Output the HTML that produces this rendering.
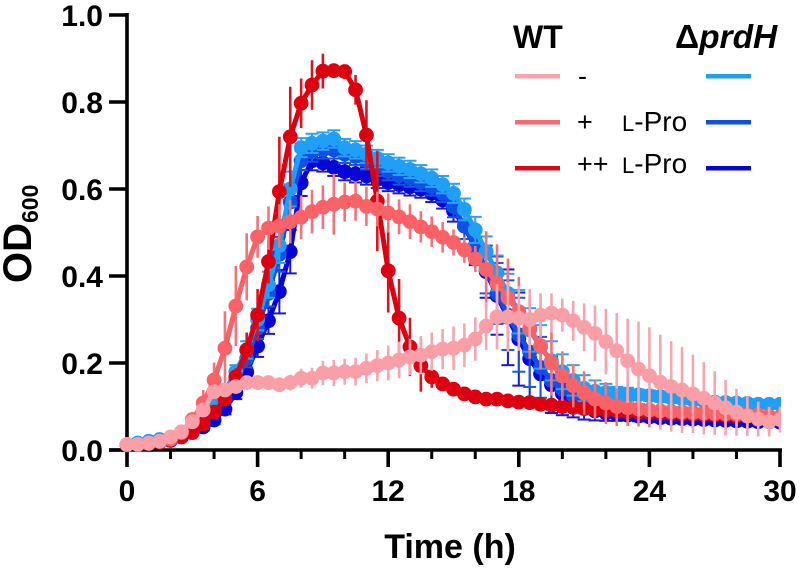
<!DOCTYPE html>
<html>
<head>
<meta charset="utf-8">
<style>
html,body{margin:0;padding:0;background:#fff;width:800px;height:570px;overflow:hidden}
svg{display:block}
text{font-family:"Liberation Sans",sans-serif;fill:#000}
</style>
</head>
<body>
<svg id="chart" xmlns="http://www.w3.org/2000/svg" width="800" height="570" viewBox="0 0 800 570">
<defs><clipPath id="plot-clip"><rect x="90" y="0" width="691" height="500"/></clipPath></defs>
<g id="axes"></g>
<g id="series" clip-path="url(#plot-clip)"></g>
<text x="450" y="558" font-size="34" font-weight="700" text-anchor="middle">Time (h)</text>
<text transform="translate(31,283) rotate(-90)" font-size="40" font-weight="700">OD<tspan font-size="23" dy="7">600</tspan></text>
<g>
<text x="513" y="48" font-size="32" font-weight="700">WT</text>
<text x="675" y="48" font-size="33.5" font-weight="700">Δ<tspan font-style="italic">prdH</tspan></text>
<rect x="515" y="74" width="45" height="4.5" fill="#f9a3ac"/>
<rect x="515" y="120" width="45" height="4.5" fill="#f66a74"/>
<rect x="515" y="166" width="45" height="4.5" fill="#d40a1c"/>
<rect x="706" y="74" width="45" height="4.5" fill="#1f9ff0"/>
<rect x="706" y="120" width="45" height="4.5" fill="#0f50e0"/>
<rect x="706" y="166" width="45" height="4.5" fill="#0505d0"/>
<text x="578" y="85" font-size="27">-</text>
<text x="577" y="131" font-size="27">+</text>
<text x="622" y="131" font-size="28"><tspan font-size="22">L</tspan>-Pro</text>
<text x="577" y="173" font-size="27">++</text>
<text x="622" y="173" font-size="28"><tspan font-size="22">L</tspan>-Pro</text>
</g>
</svg>
<script>
const times = [0,0.5,1,1.5,2,2.5,3,3.5,4,4.5,5,5.5,6,6.5,7,7.5,8,8.5,9,9.5,10,10.5,11,11.5,12,12.5,13,13.5,14,14.5,15,15.5,16,16.5,17,17.5,18,18.5,19,19.5,20,20.5,21,21.5,22,22.5,23,23.5,24,24.5,25,25.5,26,26.5,27,27.5,28,28.5,29,29.5,30];
const xTickLabels = [0,6,12,18,24,30];
const xMinorTicks = [2,4,8,10,14,16,20,22,26,28];
const yTickLabels = ["0.0","0.2","0.4","0.6","0.8","1.0"];

const wtNone = [.013,.013,.016,.02,.03,.042,.065,.092,.134,.138,.146,.155,.155,.155,.15,.155,.165,.165,.177,.177,.18,.18,.188,.194,.2,.207,.214,.218,.226,.232,.234,.241,.255,.285,.306,.306,.303,.30,.31,.315,.31,.297,.282,.268,.249,.228,.205,.186,.171,.156,.146,.138,.129,.119,.108,.097,.087,.078,.071,.065,.07];
const wtPlus = [.012,.013,.015,.02,.025,.04,.07,.108,.161,.234,.331,.421,.49,.51,.515,.525,.535,.548,.558,.565,.57,.572,.56,.554,.545,.536,.525,.513,.502,.489,.477,.46,.439,.415,.383,.35,.318,.28,.24,.2,.17,.148,.131,.117,.108,.1,.097,.094,.092,.09,.088,.087,.086,.085,.084,.083,.082,.081,.08,.078,.075];
const wtPlusPlus = [.012,.013,.015,.018,.023,.03,.04,.06,.087,.117,.168,.23,.31,.433,.594,.72,.797,.839,.871,.872,.87,.828,.724,.572,.412,.303,.237,.194,.168,.152,.14,.129,.122,.117,.117,.113,.11,.109,.105,.103,.1,.098,.095,.093,.092,.09,.088,.087,.086,.085,.084,.083,.082,.081,.08,.079,.078,.077,.076,.075,.073];
const koNone = [.012,.016,.02,.024,.026,.035,.05,.075,.105,.135,.18,.23,.3,.38,.47,.6,.695,.705,.71,.715,.695,.69,.68,.67,.66,.652,.645,.635,.625,.61,.59,.553,.506,.456,.407,.36,.318,.276,.237,.205,.18,.16,.142,.135,.132,.13,.128,.127,.125,.123,.12,.118,.115,.113,.11,.109,.108,.107,.105,.105,.105];
const koPlus = [.012,.014,.017,.02,.024,.032,.045,.065,.09,.12,.16,.21,.28,.36,.45,.57,.665,.685,.69,.69,.68,.675,.665,.65,.64,.63,.625,.615,.605,.59,.56,.515,.47,.415,.36,.31,.265,.225,.19,.16,.14,.125,.112,.105,.1,.097,.095,.093,.09,.089,.088,.087,.085,.084,.083,.082,.08,.079,.078,.076,.075];
const koPlusPlus = [.012,.013,.015,.018,.022,.03,.042,.053,.069,.094,.132,.179,.239,.297,.364,.456,.614,.665,.66,.65,.64,.635,.63,.622,.615,.61,.605,.6,.59,.575,.55,.515,.465,.41,.355,.305,.255,.21,.175,.15,.13,.115,.1,.09,.085,.082,.08,.078,.076,.074,.073,.072,.071,.07,.069,.068,.067,.066,.065,.065,.064];

const errWtNone = [.002,.002,.002,.003,.004,.006,.008,.012,.015,.012,.012,.015,.015,.015,.016,.018,.022,.024,.028,.03,.03,.032,.034,.036,.04,.042,.042,.044,.044,.046,.05,.05,.05,.055,.075,.08,.075,.07,.05,.045,.038,.046,.055,.064,.075,.087,.097,.109,.111,.109,.104,.099,.09,.083,.073,.064,.054,.046,.04,.034,.03];
const errWtPlus = [.002,.002,.002,.003,.004,.008,.015,.03,.04,.085,.092,.077,.048,.05,.05,.05,.05,.05,.05,.07,.045,.045,.045,.04,.045,.04,.04,.036,.035,.035,.03,.03,.03,.088,.09,.09,.08,.07,.055,.075,.057,.05,.05,.045,.048,.045,.042,.04,.04,.04,.038,.036,.034,.033,.032,.03,.028,.026,.024,.022,.02];
const errWtPlusPlus = [.002,.002,.002,.002,.003,.004,.006,.008,.01,.012,.02,.04,.06,.05,.126,.115,.057,.057,.04,.01,.01,.034,.08,.115,.096,.09,.067,.06,.025,.015,.008,.006,.005,.005,.005,.005,.005,.005,.005,.005,.005,.005,.005,.005,.005,.005,.005,.005,.005,.005,.005,.005,.005,.005,.005,.005,.005,.005,.005,.005,.005];
const errKoNone = [.002,.002,.002,.003,.004,.005,.006,.008,.01,.012,.015,.02,.025,.03,.04,.04,.022,.022,.02,.02,.02,.02,.02,.02,.02,.02,.02,.02,.02,.02,.022,.025,.03,.035,.04,.045,.05,.05,.05,.045,.04,.035,.03,.025,.02,.015,.015,.012,.012,.012,.01,.01,.01,.01,.01,.01,.01,.01,.01,.01,.01];
const errKoPlus = [.002,.002,.002,.003,.004,.005,.006,.008,.01,.012,.015,.02,.025,.03,.04,.04,.022,.022,.02,.02,.02,.02,.02,.02,.02,.02,.02,.02,.02,.02,.025,.03,.04,.055,.07,.08,.085,.08,.07,.055,.045,.035,.028,.022,.018,.015,.012,.012,.01,.01,.01,.01,.01,.01,.01,.01,.01,.01,.01,.01,.01];
const errKoPlusPlus = [.002,.002,.002,.003,.004,.005,.006,.008,.01,.012,.015,.02,.025,.03,.05,.05,.03,.022,.02,.02,.02,.02,.02,.02,.02,.02,.02,.02,.02,.02,.025,.03,.04,.06,.09,.11,.107,.098,.074,.065,.05,.04,.03,.022,.018,.015,.012,.012,.01,.01,.01,.01,.01,.01,.01,.01,.01,.01,.01,.01,.01];

const xScale = t => 127 + t * (780 - 127) / 30;
const yScale = v => 450 - v * 435;
const NS = "http://www.w3.org/2000/svg";

function mk(parent, tag, props) {
  const el = document.createElementNS(NS, tag);
  for (const k in props) el.setAttribute(k, props[k]);
  parent.appendChild(el);
  return el;
}

const axes = document.getElementById("axes");
const yAxisLine = mk(axes, "line", {x1: 127, x2: 127, y1: 13, y2: 452, stroke: "#000", "stroke-width": 3.6});


const xAxisLine = mk(axes, "line", {x1: 109, x2: 782, y1: 450, y2: 450, stroke: "#000", "stroke-width": 3.6});



yTickLabels.forEach(label => {
  const y = yScale(parseFloat(label));
  const tick = mk(axes, "line", {x1: 109, x2: 127, y1: y, y2: y, stroke: "#000", "stroke-width": 3.4});
  
  
  const txt = mk(axes, "text", {x: 103, y: y + 11, "font-size": 30, "font-weight": 700, "text-anchor": "end"});
  txt.textContent = label;
  
  
});
xTickLabels.forEach(label => {
  const x = xScale(label);
  const tick = mk(axes, "line", {x1: x, x2: x, y1: 450, y2: 467, stroke: "#000", "stroke-width": 3.6});
  
  
  const txt = mk(axes, "text", {x: x, y: 501, "font-size": 30, "font-weight": 700, "text-anchor": "middle"});
  txt.textContent = label;
  
  
});
xMinorTicks.forEach(t => {
  const x = xScale(t);
  const tick = mk(axes, "line", {x1: x, x2: x, y1: 450, y2: 459, stroke: "#000", "stroke-width": 3});
  
  
});

const seriesRoot = document.getElementById("series");

function drawSeries(name, values, errors, color, errColor, capped) {
  const g = mk(seriesRoot, "g", {});
  
  
  const r = 7.4;
  const capHalf = 6.5;
  times.forEach((t, i) => {
    const x = xScale(t);
    const hi = yScale(values[i] + errors[i]);
    const lo = yScale(values[i] - errors[i]);
    const bar = mk(g, "line", {x1: x, x2: x, y1: hi, y2: lo, stroke: errColor, "stroke-width": capped ? 2 : 2.6});
    
    
    if (capped) {
      [hi, lo].forEach(cy => {
        const cap = mk(g, "line", {x1: x - capHalf, x2: x + capHalf, y1: cy, y2: cy, stroke: errColor, "stroke-width": 2});
        
        
      });
    }
  });
  const pts = times.map((t, i) => xScale(t).toFixed(2) + "," + yScale(values[i]).toFixed(2)).join(" ");
  const line = mk(g, "polyline", {points: pts, fill: "none", stroke: color, "stroke-width": 5, "stroke-linejoin": "round"});
  
  
  times.forEach((t, i) => {
    const dot = mk(g, "circle", {cx: xScale(t), cy: yScale(values[i]), r: r, fill: color});
    
    
  });
}

drawSeries("series-prdh-plusplus-lpro", koPlusPlus, errKoPlusPlus, "#0505d8", "#1818d0", true);
drawSeries("series-prdh-plus-lpro", koPlus, errKoPlus, "#0f50e8", "#1a55e0", true);
drawSeries("series-prdh-none", koNone, errKoNone, "#1f9ff5", "#2aa2f0", true);
drawSeries("series-wt-plusplus-lpro", wtPlusPlus, errWtPlusPlus, "#dc0010", "#d8141e", false);
drawSeries("series-wt-plus-lpro", wtPlus, errWtPlus, "#fa6268", "#f5727a", false);
drawSeries("series-wt-none", wtNone, errWtNone, "#fa9fa8", "#f6a6b0", false);
</script>
</body>
</html>
